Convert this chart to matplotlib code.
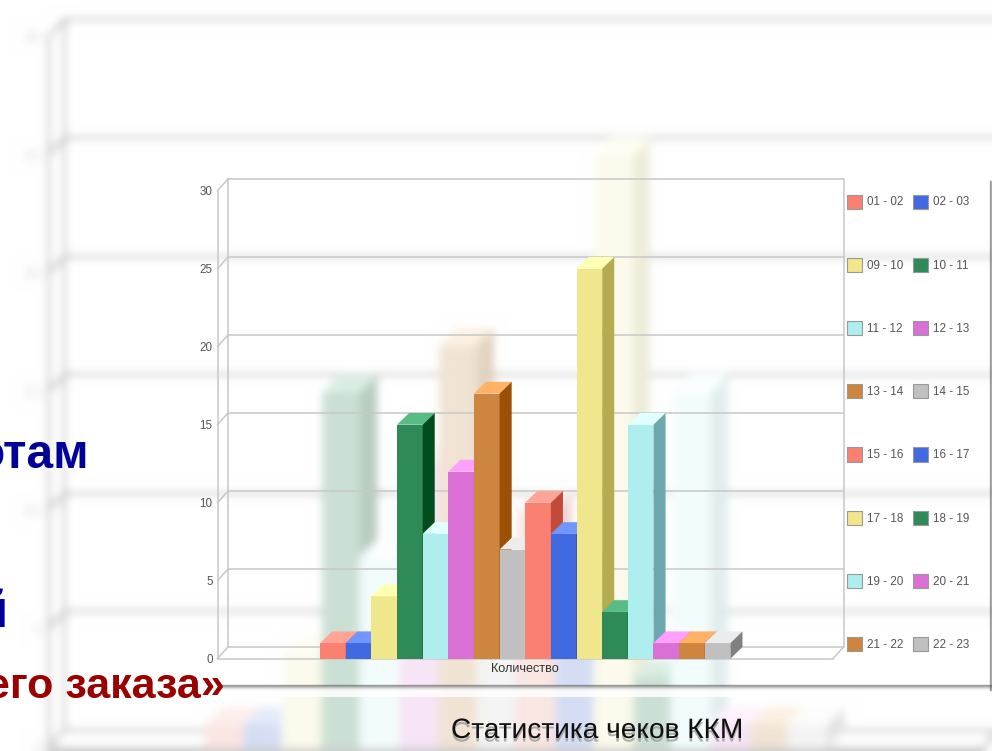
import numpy as np
import matplotlib
matplotlib.use('Agg')
import matplotlib.pyplot as plt
import matplotlib.patheffects as pe
from matplotlib.patches import Polygon

plt.rcParams['font.family'] = ['Liberation Sans', 'DejaVu Sans']

# chart data
hours = ['01 - 02', '02 - 03', '09 - 10', '10 - 11', '11 - 12', '12 - 13', '13 - 14', '14 - 15',
         '15 - 16', '16 - 17', '17 - 18', '18 - 19', '19 - 20', '20 - 21', '21 - 22', '22 - 23']
counts = [1, 1, 4, 15, 8, 12, 17, 7, 10, 8, 25, 3, 15, 1, 1, 1]
y_ticks = [0, 5, 10, 15, 20, 25, 30]
x_label = 'Количество'
title = 'Статистика чеков ККМ'

# front, top, side colour for each repeating hue
palette = [('#FA8072', '#FFA496', '#C24A3A'),
           ('#4169E1', '#7197FF', '#2C4AA8'),
           ('#F0E68C', '#FFFFB4', '#B5AC4F'),
           ('#2E8B57', '#58BC85', '#014D1D'),
           ('#AFEEEE', '#E2FFFF', '#6CA8AD'),
           ('#DA70D6', '#FFA0FF', '#A040A0'),
           ('#CD853F', '#FFB266', '#9A5005'),
           ('#C0C0C0', '#ECECEC', '#808080')]

W, H = 992, 751
DX, DY = 0.47, 0.75   # depth of the fake 3d, in data units
WALL_DX = 0.41


def place(ax, left, right, y0, y30):
    ax.set_position([left / W, 1 - y0 / H, (right - left) / W, (y0 - y30) / H])
    ax.set_xlim(-4, 20)
    ax.set_ylim(0, 30)
    ax.patch.set_alpha(0)
    for s in ax.spines.values():
        s.set_visible(False)


def draw_chart(ax, wall, lw, font, label_color):
    # walls and grid
    x0, x1 = -4, 20
    kw = dict(color=wall, lw=lw, zorder=1, clip_on=False)
    ax.hlines(np.array(y_ticks) + DY, x0 + WALL_DX, x1 + WALL_DX, **kw)
    ax.plot([x0, x0], [0, 30], **kw)
    ax.plot([x0 + WALL_DX, x0 + WALL_DX], [DY, 30 + DY], **kw)
    ax.plot([x1 + WALL_DX, x1 + WALL_DX], [DY, 30 + DY], **kw)
    ax.plot([x0, x1], [0, 0], **kw)
    ax.plot([x1, x1 + WALL_DX], [0, DY], **kw)
    for t in y_ticks:
        ax.plot([x0, x0 + WALL_DX], [t, t + DY], **kw)
    # bars, left to right so each one hides the side of the previous
    handles = []
    for i, (h, c) in enumerate(zip(hours, counts)):
        front, top, side = palette[i % len(palette)]
        z = 2 + i
        b = ax.bar(i, c, width=1, align='edge', color=front, label=h, zorder=z, lw=0, clip_on=False)
        handles.append(b[0])
        ax.add_patch(Polygon([(i, c), (i + 1, c), (i + 1 + DX, c + DY), (i + DX, c + DY)],
                             fc=top, lw=0, zorder=z, clip_on=False))
        ax.add_patch(Polygon([(i + 1, 0), (i + 1 + DX, DY), (i + 1 + DX, c + DY), (i + 1, c)],
                             fc=side, lw=0, zorder=z, clip_on=False))
    ax.set_yticks(y_ticks)
    ax.set_xticks([8])
    ax.set_xticklabels([x_label], fontsize=font * 1.08, color='#333333')
    ax.tick_params(axis='y', length=0, pad=font * 0.42, labelsize=font, labelcolor=label_color)
    ax.tick_params(axis='x', length=0, pad=font * 0.35)
    return handles


def blur(img, sigma):
    r = int(sigma * 3)
    k = np.exp(-0.5 * (np.arange(-r, r + 1) / sigma) ** 2)
    k /= k.sum()
    pad = np.pad(img, ((r, r), (r, r), (0, 0)), mode='edge')
    pad = np.apply_along_axis(lambda v: np.convolve(v, k, mode='same'), 0, pad)
    pad = np.apply_along_axis(lambda v: np.convolve(v, k, mode='same'), 1, pad)
    return pad[r:-r, r:-r]


# faded, enlarged copy of the chart behind everything
fig_g = plt.figure(figsize=(W / 100, H / 100), dpi=100, facecolor='white')
ax_g = fig_g.add_axes([0, 0, 1, 1])
place(ax_g, 48.4, 983, 747.5, 36.5)
draw_chart(ax_g, '#404040', 3.6, 12.8, '#333333')
fig_g.canvas.draw()
ghost = np.asarray(fig_g.canvas.buffer_rgba())[:, :, :3] / 255.0
plt.close(fig_g)
ghost = blur(ghost, 4.5)
dark = 1 - ghost
dark = 0.65 * dark + 0.35 * dark.mean(axis=2, keepdims=True)
ghost = 1 - 0.3 * dark ** 1.4
ghost[:, :12] = 1.0

fig = plt.figure(figsize=(W / 100, H / 100), dpi=100, facecolor='white')

# background layer in picture pixels
bg = fig.add_axes([0, 0, 1, 1])
bg.set_xlim(0, W)
bg.set_ylim(H, 0)
bg.axis('off')
bg.imshow(ghost, extent=(0, W, H, 0), aspect='auto', zorder=0, interpolation='bilinear')

# panel shadow and the strip under it
bg.fill_between([222, W], 686, 697, color='white', alpha=0.85, lw=0, zorder=1)
for i, a in enumerate([0.55, 0.4, 0.25, 0.12, 0.05]):
    bg.plot([222, 992], [685 + i, 685 + i], color='#555555', alpha=a, lw=1, zorder=2)
    bg.plot([990 + i, 990 + i], [181, 690], color='#555555', alpha=a, lw=1, zorder=2)

# front chart
ax = fig.add_axes([0, 0, 1, 1])
place(ax, 217.5, 833, 658.7, 190.7)
bars = draw_chart(ax, '#C8C8C8', 1.1, 8.4, '#555555')
order = list(range(0, 16, 2)) + list(range(1, 16, 2))
leg = ax.legend([bars[i] for i in order], [hours[i] for i in order], ncol=2, frameon=False,
                fontsize=8.4, labelcolor='#555555', handlelength=1.3, handleheight=1.5,
                handletextpad=0.45, columnspacing=0.75, labelspacing=4.2, borderpad=0, borderaxespad=0,
                loc='upper left', bbox_to_anchor=(847 / W, 1 - 194.5 / H), bbox_transform=fig.transFigure)
for p in leg.get_patches():
    p.set_edgecolor('#999999')
    p.set_linewidth(0.8)

# slide text around the chart, cut by the left edge
fg = fig.add_axes([0, 0, 1, 1])
fg.set_xlim(0, W)
fg.set_ylim(H, 0)
fg.axis('off')
fg.text(89, 468, 'отам', color='#000099', fontsize=34.5, fontweight='bold', ha='right', va='baseline')
fg.text(8, 627, 'й', color='#000099', fontsize=36.5, fontweight='bold', ha='right', va='baseline')
fg.text(225, 698, 'его заказа»', color='#990000', fontsize=31, fontweight='bold', ha='right', va='baseline')
fg.text(597, 738, title, color='#111111', fontsize=20.2, ha='center', va='baseline',
        path_effects=[pe.SimplePatchShadow(offset=(0, -2.5), shadow_rgbFace='#999999', alpha=0.8), pe.Normal()])

fig.savefig('out.png', dpi=100)
